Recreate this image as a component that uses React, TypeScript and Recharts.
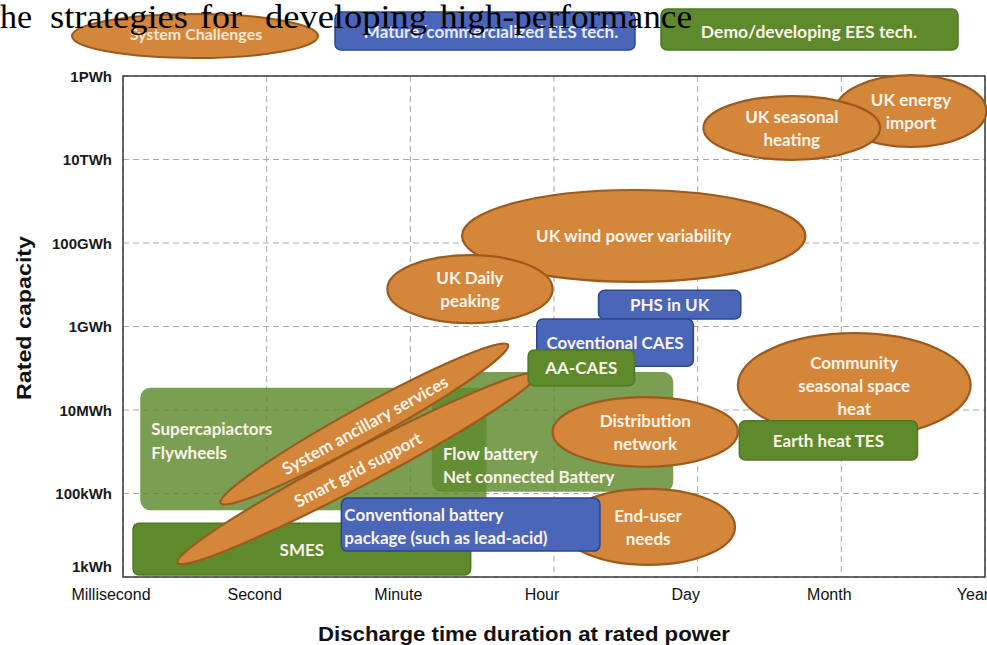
import React from "react";
import { ComposedChart, XAxis, YAxis, CartesianGrid, ReferenceArea, Scatter } from "recharts";

// x: one step per time unit, y: log10 of rated capacity in Wh
const timeTicks = [0, 1, 2, 3, 4, 5, 6];
const timeLabels = ["Millisecond", "Second", "Minute", "Hour", "Day", "Month", "Year"];
const capacityTicks = [3, 5, 7, 9, 11, 13, 15];
const capacityLabels = ["1kWh", "100kWh", "10MWh", "1GWh", "100GWh", "10TWh", "1PWh"];

type Item = { id: string; lines: string[]; x: [number, number]; y: [number, number] };

// Demo/developing EES tech. (green)
const demoTech: Item[] = [
  { id: "supercap", lines: ["Supercapiactors", "Flywheels"], x: [0.12, 2.53], y: [4.6, 7.53] },
  { id: "smes", lines: ["SMES"], x: [0.07, 2.42], y: [3.05, 4.29] },
  { id: "flow", lines: ["Flow battery", "Net connected Battery"], x: [2.15, 3.83], y: [5.04, 7.91] },
  { id: "aacaes", lines: ["AA-CAES"], x: [2.82, 3.56], y: [7.58, 8.44] },
  { id: "tes", lines: ["Earth heat TES"], x: [4.29, 5.53], y: [5.8, 6.74] },
];

// Mature/commercialized EES tech. (blue)
const matureTech: Item[] = [
  { id: "phs", lines: ["PHS in UK"], x: [3.31, 4.3], y: [9.18, 9.87] },
  { id: "caes", lines: ["Coventional CAES"], x: [2.88, 3.97], y: [8.05, 9.18] },
  { id: "battery", lines: ["Conventional battery", "package (such as lead-acid)"], x: [1.52, 3.32], y: [3.62, 4.89] },
];

// System challenges (orange ellipses)
const challenges: Item[] = [
  { id: "import", lines: ["UK  energy", "import"], x: [4.96, 6.01], y: [13.3, 15.02] },
  { id: "seasonal", lines: ["UK  seasonal", "heating"], x: [4.04, 5.27], y: [12.99, 14.52] },
  { id: "wind", lines: ["UK wind power variability"], x: [2.36, 4.75], y: [10.07, 12.27] },
  { id: "daily", lines: ["UK Daily", "peaking"], x: [1.84, 2.99], y: [9.08, 10.71] },
  { id: "community", lines: ["Community", "seasonal space", "heat"], x: [4.28, 5.9], y: [6.35, 8.84] },
  { id: "distribution", lines: ["Distribution", "network"], x: [2.99, 4.28], y: [5.64, 7.31] },
  { id: "enduser", lines: ["End-user", "needs"], x: [3.05, 4.26], y: [3.29, 5.11] },
];

// long tilted challenge bands, from lower-left to upper-right corner
const challengeBands: Item[] = [
  { id: "ancillary", lines: ["System  ancillary services"], x: [0.68, 2.68], y: [4.77, 8.56] },
  { id: "smartgrid", lines: ["Smart grid support"], x: [0.38, 2.88], y: [3.34, 7.86] },
];

const drawOrder = [
  "supercap", "smes", "flow", "ancillary", "smartgrid", "enduser", "distribution", "battery",
  "phs", "caes", "aacaes", "wind", "daily", "import", "seasonal", "community", "tes",
];

// invisible points so the axes have something to lay out
const axisPoints = timeTicks.map((t, i) => ({ x: t, y: capacityTicks[i] }));

const ORANGE = "#D4863B";
const ORANGE_EDGE = "#9C5A1E";
const BLUE = "#4A66B9";
const BLUE_EDGE = "#2E4690";
const GREEN = "#5E8A2C";
const GREEN_EDGE = "#4F7824";
const LABEL = "#FBF4EA";
const LABEL_FONT = "Lato, 'Open Sans', sans-serif";
const LABEL_SIZE = 17;

const leftLabels: Record<string, { dx: number; dy: number }> = {
  supercap: { dx: 11, dy: 41 },
  flow: { dx: 11, dy: 81 },
  battery: { dx: 3, dy: 16 },
};
const lightBoxes = ["supercap", "flow"];

const labelText = (key: string, x: number, y: number, t: string, anchor: string) => (
  <text
    key={key}
    x={x}
    y={y}
    textAnchor={anchor}
    dominantBaseline="central"
    fill={LABEL}
    fontFamily={LABEL_FONT}
    fontWeight={700}
    fontSize={LABEL_SIZE}
  >
    {t}
  </text>
);

const rectOf = (p: any) => ({
  x: Math.min(p.x, p.x + p.width),
  y: Math.min(p.y, p.y + p.height),
  w: Math.abs(p.width),
  h: Math.abs(p.height),
});

const boxShape = (item: Item, fill: string, edge: string | null, opacity: number) => (p: any) => {
  const { x, y, w, h } = rectOf(p);
  const left = leftLabels[item.id];
  const n = item.lines.length;
  return (
    <g>
      <rect
        x={x}
        y={y}
        width={w}
        height={h}
        rx={lightBoxes.includes(item.id) ? 10 : 6}
        fill={fill}
        fillOpacity={opacity}
        stroke={edge ?? "none"}
        strokeWidth={edge ? 1.5 : 0}
      />
      {item.lines.map((t, i) =>
        left
          ? labelText(`${i}`, x + left.dx, y + left.dy + i * 23.5, t, "start")
          : labelText(`${i}`, x + w / 2, y + h / 2 + (i - (n - 1) / 2) * 23, t, "middle")
      )}
    </g>
  );
};

const ellipseShape = (item: Item) => (p: any) => {
  const { x, y, w, h } = rectOf(p);
  const cx = x + w / 2;
  const cy = y + h / 2;
  const n = item.lines.length;
  return (
    <g>
      <ellipse cx={cx} cy={cy} rx={w / 2} ry={h / 2} fill={ORANGE} stroke={ORANGE_EDGE} strokeWidth={2.2} />
      {item.lines.map((t, i) => labelText(`${i}`, cx, cy + (i - (n - 1) / 2) * 23, t, "middle"))}
    </g>
  );
};

const bandShape = (item: Item, thickness: number) => (p: any) => {
  const { x, y, w, h } = rectOf(p);
  const cx = x + w / 2;
  const cy = y + h / 2;
  const len = Math.sqrt(w * w + h * h);
  const angle = (-Math.atan2(h, w) * 180) / Math.PI;
  return (
    <g transform={`translate(${cx},${cy}) rotate(${angle})`}>
      <ellipse cx={0} cy={0} rx={len / 2} ry={thickness / 2} fill={ORANGE} stroke={ORANGE_EDGE} strokeWidth={2.2} />
      {labelText("t", 0, 1, item.lines[0], "middle")}
    </g>
  );
};

const bandThickness: Record<string, number> = { ancillary: 34, smartgrid: 36 };

const XTick = (props: any) => {
  const { x, y, payload } = props;
  return (
    <text
      x={x - 12}
      y={y + 17}
      textAnchor="middle"
      dominantBaseline="central"
      fontFamily="'Liberation Sans', Arial, sans-serif"
      fontSize={16}
      fill="#111"
    >
      {timeLabels[timeTicks.indexOf(payload.value)]}
    </text>
  );
};

const YTick = (props: any) => {
  const { x, y, payload } = props;
  const shift = payload.value === capacityTicks[0] ? -11 : 0;
  return (
    <text
      x={x}
      y={y + shift}
      textAnchor="end"
      dominantBaseline="central"
      fontFamily="'Liberation Sans', Arial, sans-serif"
      fontWeight={700}
      fontSize={15}
      fill="#1a1a1a"
    >
      {capacityLabels[capacityTicks.indexOf(payload.value)]}
    </text>
  );
};

const titleWords = ["he", "strategies", "for", "developing", "high-performance"];
const titleX = [0, 50, 200, 265, 440];
const titleW = [32, 138, 42, 162, 252];

export default function App() {
  const all: Record<string, React.ReactElement> = {};
  demoTech.forEach((d) => {
    const light = lightBoxes.includes(d.id);
    all[d.id] = (
      <ReferenceArea
        key={d.id}
        x1={d.x[0]}
        x2={d.x[1]}
        y1={d.y[0]}
        y2={d.y[1]}
        ifOverflow="visible"
        shape={boxShape(d, GREEN, light ? null : GREEN_EDGE, light ? 0.82 : 1)}
      />
    );
  });
  matureTech.forEach((d) => {
    all[d.id] = (
      <ReferenceArea
        key={d.id}
        x1={d.x[0]}
        x2={d.x[1]}
        y1={d.y[0]}
        y2={d.y[1]}
        ifOverflow="visible"
        shape={boxShape(d, BLUE, BLUE_EDGE, 1)}
      />
    );
  });
  challenges.forEach((d) => {
    all[d.id] = (
      <ReferenceArea key={d.id} x1={d.x[0]} x2={d.x[1]} y1={d.y[0]} y2={d.y[1]} ifOverflow="visible" shape={ellipseShape(d)} />
    );
  });
  challengeBands.forEach((d) => {
    all[d.id] = (
      <ReferenceArea
        key={d.id}
        x1={d.x[0]}
        x2={d.x[1]}
        y1={d.y[0]}
        y2={d.y[1]}
        ifOverflow="visible"
        shape={bandShape(d, bandThickness[d.id])}
      />
    );
  });

  return (
    <div style={{ position: "absolute", left: 0, top: 0, width: 987, height: 645, background: "#fff" }}>
      <ComposedChart width={987} height={645} margin={{ top: 76, right: 2, left: 8, bottom: 38 }}>
        <CartesianGrid stroke="#a8a8a8" strokeDasharray="6 4" strokeWidth={1} />
        <XAxis
          type="number"
          dataKey="x"
          domain={[0, 6]}
          ticks={timeTicks}
          interval={0}
          axisLine={false}
          tickLine={false}
          tickSize={0}
          tickMargin={0}
          height={30}
          tick={<XTick />}
        />
        <YAxis
          type="number"
          dataKey="y"
          domain={[3, 15]}
          ticks={capacityTicks}
          interval={0}
          axisLine={false}
          tickLine={false}
          tickSize={0}
          tickMargin={11}
          width={115}
          tick={<YTick />}
        />
        <Scatter data={axisPoints} dataKey="y" fill="none" shape={() => <g />} isAnimationActive={false} />
        <ReferenceArea x1={0} x2={6} y1={3} y2={15} ifOverflow="visible" fill="none" stroke="#3a3a3a" strokeWidth={1.5} />
        {drawOrder.map((id) => all[id])}
      </ComposedChart>

      <svg width={987} height={645} style={{ position: "absolute", left: 0, top: 0, pointerEvents: "none" }}>
        {/* legend */}
        <ellipse cx={195} cy={36} rx={123} ry={22} fill={ORANGE} stroke={ORANGE_EDGE} strokeWidth={2} />
        <text x={196} y={33} textAnchor="middle" dominantBaseline="central" fill="#F6E6D2" fontFamily={LABEL_FONT} fontWeight={700} fontSize={16}>
          System Challenges
        </text>
        <rect x={335} y={12} width={300} height={38} rx={6} fill={BLUE} stroke={BLUE_EDGE} strokeWidth={1.5} />
        <text x={491} y={31} textAnchor="middle" dominantBaseline="central" fill="#E8ECF6" fontFamily={LABEL_FONT} fontWeight={700} fontSize={17}>
          Mature/commercialized  EES  tech.
        </text>
        <rect x={661} y={9} width={297} height={41} rx={6} fill={GREEN} stroke={GREEN_EDGE} strokeWidth={1.5} />
        <text x={809} y={31} textAnchor="middle" dominantBaseline="central" fill={LABEL} fontFamily={LABEL_FONT} fontWeight={700} fontSize={17.5}>
          Demo/developing EES tech.
        </text>
        {/* clipped caption text from the page */}
        {titleWords.map((w, i) => (
          <text
            key={w}
            x={titleX[i]}
            y={28}
            fontFamily="'Liberation Serif', 'Times New Roman', serif"
            fontSize={33}
            fill="#000"
            textLength={titleW[i]}
            lengthAdjust="spacingAndGlyphs"
          >
            {w}
          </text>
        ))}
        {/* axis titles */}
        <text
          x={524}
          y={633}
          textAnchor="middle"
          dominantBaseline="central"
          fontFamily="'Liberation Sans', Arial, sans-serif"
          fontWeight={700}
          fontSize={21}
          fill="#111"
          textLength={412}
          lengthAdjust="spacingAndGlyphs"
        >
          Discharge time duration at rated power
        </text>
        <text
          x={23}
          y={318}
          transform="rotate(-90 23 318)"
          textAnchor="middle"
          dominantBaseline="central"
          fontFamily="'Liberation Sans', Arial, sans-serif"
          fontWeight={700}
          fontSize={21}
          fill="#111"
          textLength={164}
          lengthAdjust="spacingAndGlyphs"
        >
          Rated capacity
        </text>
      </svg>
    </div>
  );
}
